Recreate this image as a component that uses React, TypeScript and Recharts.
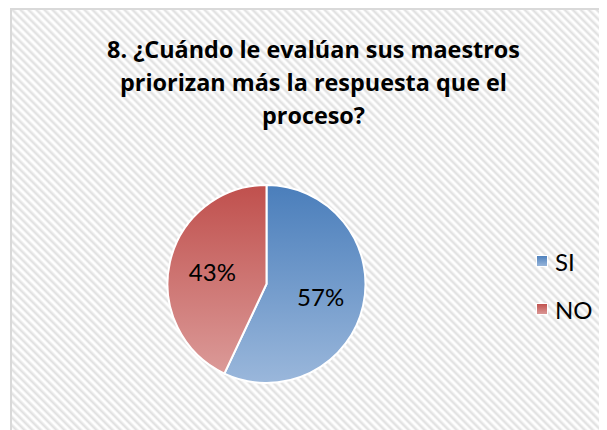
import { PieChart, Pie, Cell, Legend } from "recharts";

const categories = ["SI", "NO"];
const values = [57, 43];
const titleLines = [
  "8. ¿Cuándo le evalúan sus maestros",
  "priorizan más la respuesta que el",
  "proceso?",
];

const GRADIENTS = [
  { id: "gradSi", top: "#4a7ebb", bottom: "#9ab7db" },
  { id: "gradNo", top: "#c0504d", bottom: "#db9a98" },
];

const data = categories.map((name, i) => ({ name, value: values[i] }));
const RAD = Math.PI / 180;
const FONT = "Lato, Calibri, 'Open Sans', sans-serif";

const renderLabel = (props: any) => {
  const { cx, cy, midAngle, outerRadius, percent } = props;
  const r = outerRadius * 0.56;
  const x = cx + r * Math.cos(-midAngle * RAD);
  const y = cy + r * Math.sin(-midAngle * RAD);
  return (
    <text
      x={x}
      y={y}
      fill="#000"
      textAnchor="middle"
      dominantBaseline="central"
      style={{ fontFamily: FONT, fontSize: 24 }}
    >
      {`${Math.round(percent * 100)}%`}
    </text>
  );
};

const renderLegend = () => (
  <div style={{ fontFamily: FONT }}>
    {categories.map((name, i) => (
      <div key={name} style={{ display: "flex", alignItems: "center", height: 48 }}>
        <svg width={12} height={12} style={{ marginRight: 7 }}>
          <rect x={0.5} y={0.5} width={11} height={11} fill={`url(#${GRADIENTS[i].id})`} stroke="#fff" strokeWidth={1} />
        </svg>
        <span style={{ fontSize: 24, color: "#000" }}>{name}</span>
      </div>
    ))}
  </div>
);

export default function App() {
  return (
    <div
      style={{
        position: "relative",
        marginLeft: 2,
        width: 595,
        height: 420,
        borderLeft: "2px solid #d9d9d9",
        borderTop: "2px solid #d9d9d9",
        background:
          "repeating-linear-gradient(45deg, #ffffff 0px, #ffffff 1px, #dedede 3px, #ffffff 5.66px)",
        overflow: "hidden",
      }}
    >
      <div
        style={{
          position: "absolute",
          left: 0,
          top: 23,
          width: 603,
          textAlign: "center",
          fontFamily: "'Open Sans', sans-serif",
          fontWeight: "bold",
          fontSize: 23.4,
          lineHeight: "33px",
          color: "#000",
        }}
      >
        {titleLines.map((t) => (
          <div key={t}>{t}</div>
        ))}
      </div>
      <PieChart width={595} height={420} margin={{ top: 0, right: 0, bottom: 0, left: 0 }}>
        <defs>
          {GRADIENTS.map((g) => (
            <linearGradient key={g.id} id={g.id} x1="0" y1="0" x2="0" y2="1">
              <stop offset="0%" stopColor={g.top} />
              <stop offset="100%" stopColor={g.bottom} />
            </linearGradient>
          ))}
        </defs>
        <Pie
          data={data}
          dataKey="value"
          nameKey="name"
          cx={254.5}
          cy={274}
          outerRadius={99}
          startAngle={90}
          endAngle={-270}
          stroke="#ffffff"
          strokeWidth={2}
          label={renderLabel}
          labelLine={false}
          isAnimationActive={false}
        >
          {data.map((_, i) => (
            <Cell key={i} fill={`url(#${GRADIENTS[i].id})`} />
          ))}
        </Pie>
        <Legend
          layout="vertical"
          verticalAlign="middle"
          align="right"
          content={renderLegend}
          wrapperStyle={{ left: 524, top: 227, width: 80 }}
        />
      </PieChart>
    </div>
  );
}
